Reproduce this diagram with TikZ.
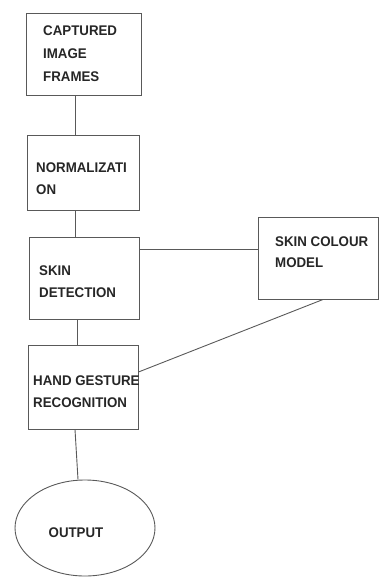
\documentclass[tikz,border=0pt]{standalone}
\usepackage{fontspec}
\setmainfont[FakeStretch=0.95]{Liberation Sans}
\usetikzlibrary{shapes.geometric}
\begin{document}
\begin{tikzpicture}[x=1pt,y=1pt,
  box/.style={draw=black!65, line width=1pt, rectangle, inner sep=0pt},
  txt/.style={font=\fontsize{14}{22}\selectfont\bfseries, text=black!85, align=left, inner sep=0pt, anchor=west},
  conn/.style={draw=black!65, line width=0.9pt}]
\useasboundingbox (0,0) rectangle (379,-577);
\node[box, minimum width=115, minimum height=82] (b1) at (83.5,-55) {};
\node[txt, font=\fontsize{14}{23}\selectfont\bfseries] (t1) at (43,-54) {CAPTURED\\IMAGE\\FRAMES};
\node[box, minimum width=112, minimum height=74] (b2) at (83,-173) {};
\node[txt] (t2) at (36,-179) {NORMALIZATI\\ON};
\node[box, minimum width=110, minimum height=82] (b3) at (84,-278) {};
\node[txt] (t3) at (39,-282) {SKIN\\DETECTION};
\node[box, minimum width=120, minimum height=82] (sk) at (318.5,-258) {};
\node[txt, font=\fontsize{14}{21}\selectfont\bfseries] (t5) at (275,-252) {SKIN COLOUR\\MODEL};
\node[box, minimum width=110, minimum height=84] (b4) at (83,-387) {};
\node[txt] (t4) at (33,-392) {HAND GESTURE\\RECOGNITION};
\node[draw=black!65, line width=0.9pt, ellipse, minimum width=140, minimum height=96, inner sep=0pt] (out) at (85,-528) {};
\node[txt, anchor=center] (t6) at (76,-533) {OUTPUT};
\draw[conn] ([xshift=-8.5]b1.south) -- ([xshift=-8]b2.north);
\draw[conn] ([xshift=-8]b2.south) -- ([xshift=-9]b3.north);
\draw[conn] ([xshift=-7]b3.south) -- ([xshift=-6]b4.north);
\draw[conn] ([yshift=29]b3.east) -- ([yshift=29]b3.east -| sk.west);
\draw[conn] ([xshift=4.5]sk.south) -- ([yshift=15]b4.east);
\draw[conn] ([xshift=-8]b4.south) -- ([xshift=-7]out.north);
\end{tikzpicture}
\end{document}
